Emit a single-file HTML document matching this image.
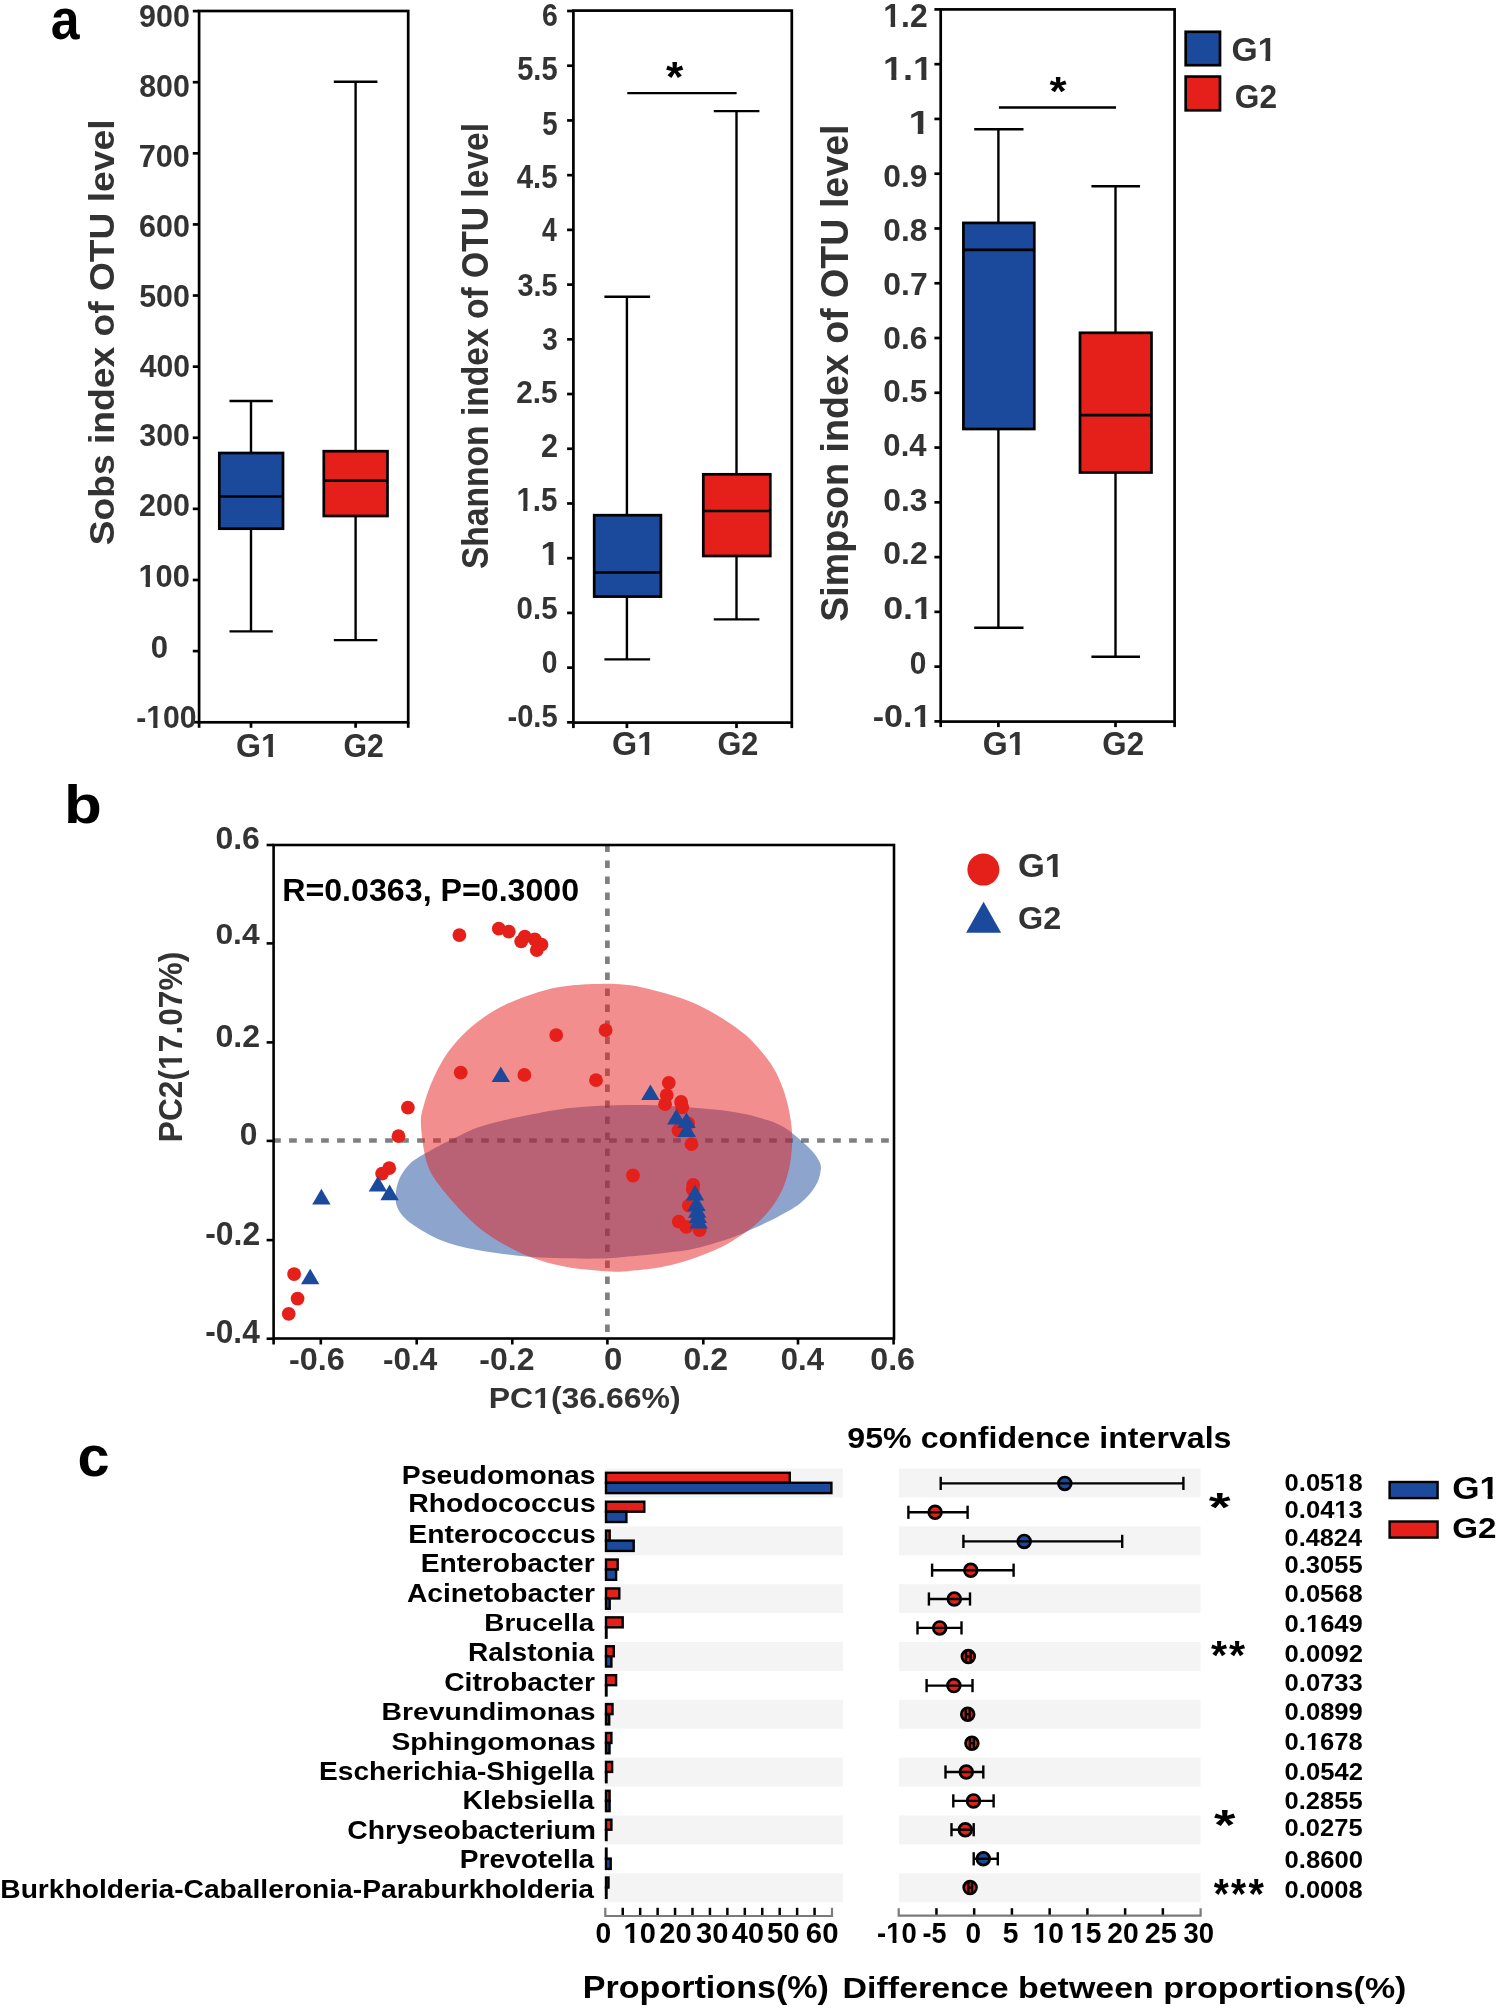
<!DOCTYPE html>
<html><head><meta charset="utf-8"><style>
html,body{margin:0;padding:0;background:#fff;}
svg{display:block;will-change:transform;}
text{font-family:"Liberation Sans",sans-serif;font-weight:bold;}
</style></head><body>
<svg width="1498" height="2009" viewBox="0 0 1498 2009">
<rect x="0" y="0" width="1498" height="2009" fill="#fff"/>
<g transform="translate(50.75,38.83) scale(0.9069,1)"><text font-size="57.09" fill="#000">a</text></g>
<rect x="199.10" y="11.00" width="209.10" height="711.30" fill="none" stroke="#000" stroke-width="2.7"/>
<line x1="192.80" y1="11.10" x2="199.10" y2="11.10" stroke="#000" stroke-width="2.7"/>
<line x1="192.80" y1="82.21" x2="199.10" y2="82.21" stroke="#000" stroke-width="2.7"/>
<line x1="192.80" y1="153.32" x2="199.10" y2="153.32" stroke="#000" stroke-width="2.7"/>
<line x1="192.80" y1="224.43" x2="199.10" y2="224.43" stroke="#000" stroke-width="2.7"/>
<line x1="192.80" y1="295.54" x2="199.10" y2="295.54" stroke="#000" stroke-width="2.7"/>
<line x1="192.80" y1="366.65" x2="199.10" y2="366.65" stroke="#000" stroke-width="2.7"/>
<line x1="192.80" y1="437.76" x2="199.10" y2="437.76" stroke="#000" stroke-width="2.7"/>
<line x1="192.80" y1="508.87" x2="199.10" y2="508.87" stroke="#000" stroke-width="2.7"/>
<line x1="192.80" y1="579.98" x2="199.10" y2="579.98" stroke="#000" stroke-width="2.7"/>
<line x1="192.80" y1="651.09" x2="199.10" y2="651.09" stroke="#000" stroke-width="2.7"/>
<line x1="192.80" y1="722.20" x2="199.10" y2="722.20" stroke="#000" stroke-width="2.7"/>
<line x1="199.10" y1="722.30" x2="199.10" y2="727.80" stroke="#000" stroke-width="2.7"/>
<line x1="251.00" y1="722.30" x2="251.00" y2="727.80" stroke="#000" stroke-width="2.7"/>
<line x1="355.60" y1="722.30" x2="355.60" y2="727.80" stroke="#000" stroke-width="2.7"/>
<line x1="408.20" y1="722.30" x2="408.20" y2="727.80" stroke="#000" stroke-width="2.7"/>
<g transform="translate(139.03,27.28) scale(0.9499,1)"><text font-size="32.11" fill="#333">900</text></g>
<g transform="translate(139.19,97.38) scale(0.9469,1)"><text font-size="32.11" fill="#333">800</text></g>
<g transform="translate(138.72,167.38) scale(0.9559,1)"><text font-size="32.11" fill="#333">700</text></g>
<g transform="translate(139.03,236.58) scale(0.9499,1)"><text font-size="32.11" fill="#333">600</text></g>
<g transform="translate(139.19,306.58) scale(0.9469,1)"><text font-size="32.11" fill="#333">500</text></g>
<g transform="translate(139.65,377.18) scale(0.9381,1)"><text font-size="32.11" fill="#333">400</text></g>
<g transform="translate(139.34,446.28) scale(0.9439,1)"><text font-size="32.11" fill="#333">300</text></g>
<g transform="translate(139.03,516.38) scale(0.9499,1)"><text font-size="32.11" fill="#333">200</text></g>
<g transform="translate(138.44,586.68) scale(0.9612,1)"><text font-size="32.11" fill="#333">100</text><rect x="1.45" y="-4.34" width="5.97" height="4.82" fill="#fff"/><rect x="11.95" y="-4.34" width="5.65" height="4.82" fill="#fff"/></g>
<g transform="translate(150.85,658.28) scale(0.9703,1)"><text font-size="32.11" fill="#333">0</text></g>
<g transform="translate(136.19,728.38) scale(0.9407,1)"><text font-size="32.11" fill="#333">-100</text><rect x="12.14" y="-4.34" width="5.97" height="4.82" fill="#fff"/><rect x="22.64" y="-4.34" width="5.65" height="4.82" fill="#fff"/></g>
<line x1="251.00" y1="401.00" x2="251.00" y2="453.00" stroke="#000" stroke-width="2.4"/>
<line x1="251.00" y1="528.70" x2="251.00" y2="631.40" stroke="#000" stroke-width="2.4"/>
<line x1="229.50" y1="401.00" x2="272.80" y2="401.00" stroke="#000" stroke-width="2.4"/>
<line x1="229.50" y1="631.40" x2="272.80" y2="631.40" stroke="#000" stroke-width="2.4"/>
<rect x="219.30" y="453.00" width="63.70" height="75.70" fill="#1b4a9c" stroke="#000" stroke-width="2.7"/>
<line x1="219.30" y1="496.50" x2="283.00" y2="496.50" stroke="#000" stroke-width="2.7"/>
<line x1="355.60" y1="81.70" x2="355.60" y2="451.20" stroke="#000" stroke-width="2.4"/>
<line x1="355.60" y1="516.00" x2="355.60" y2="640.10" stroke="#000" stroke-width="2.4"/>
<line x1="333.80" y1="81.70" x2="377.40" y2="81.70" stroke="#000" stroke-width="2.4"/>
<line x1="333.80" y1="640.10" x2="377.40" y2="640.10" stroke="#000" stroke-width="2.4"/>
<rect x="323.80" y="451.20" width="63.70" height="64.80" fill="#e5201b" stroke="#000" stroke-width="2.7"/>
<line x1="323.80" y1="480.60" x2="387.50" y2="480.60" stroke="#000" stroke-width="2.7"/>
<g transform="translate(236.02,757.27) scale(0.9690,1)"><text font-size="33.10" fill="#333">G1</text><rect x="27.23" y="-4.47" width="6.16" height="4.96" fill="#fff"/><rect x="38.06" y="-4.47" width="5.83" height="4.96" fill="#fff"/></g>
<g transform="translate(343.59,757.27) scale(0.9124,1)"><text font-size="33.10" fill="#333">G2</text></g>
<g transform="translate(113.90,545.32) rotate(-90) scale(1.0537,1)"><text font-size="35.31" fill="#333">Sobs index of OTU level</text></g>
<rect x="573.40" y="10.60" width="218.40" height="712.00" fill="none" stroke="#000" stroke-width="2.7"/>
<line x1="567.10" y1="11.00" x2="573.40" y2="11.00" stroke="#000" stroke-width="2.7"/>
<line x1="567.10" y1="65.72" x2="573.40" y2="65.72" stroke="#000" stroke-width="2.7"/>
<line x1="567.10" y1="120.44" x2="573.40" y2="120.44" stroke="#000" stroke-width="2.7"/>
<line x1="567.10" y1="175.16" x2="573.40" y2="175.16" stroke="#000" stroke-width="2.7"/>
<line x1="567.10" y1="229.88" x2="573.40" y2="229.88" stroke="#000" stroke-width="2.7"/>
<line x1="567.10" y1="284.60" x2="573.40" y2="284.60" stroke="#000" stroke-width="2.7"/>
<line x1="567.10" y1="339.32" x2="573.40" y2="339.32" stroke="#000" stroke-width="2.7"/>
<line x1="567.10" y1="394.04" x2="573.40" y2="394.04" stroke="#000" stroke-width="2.7"/>
<line x1="567.10" y1="448.76" x2="573.40" y2="448.76" stroke="#000" stroke-width="2.7"/>
<line x1="567.10" y1="503.48" x2="573.40" y2="503.48" stroke="#000" stroke-width="2.7"/>
<line x1="567.10" y1="558.20" x2="573.40" y2="558.20" stroke="#000" stroke-width="2.7"/>
<line x1="567.10" y1="612.92" x2="573.40" y2="612.92" stroke="#000" stroke-width="2.7"/>
<line x1="567.10" y1="667.64" x2="573.40" y2="667.64" stroke="#000" stroke-width="2.7"/>
<line x1="567.10" y1="722.36" x2="573.40" y2="722.36" stroke="#000" stroke-width="2.7"/>
<line x1="573.40" y1="722.60" x2="573.40" y2="728.10" stroke="#000" stroke-width="2.7"/>
<line x1="626.90" y1="722.60" x2="626.90" y2="728.10" stroke="#000" stroke-width="2.7"/>
<line x1="736.50" y1="722.60" x2="736.50" y2="728.10" stroke="#000" stroke-width="2.7"/>
<line x1="791.80" y1="722.60" x2="791.80" y2="728.10" stroke="#000" stroke-width="2.7"/>
<g transform="translate(542.00,26.38) scale(0.8861,1)"><text font-size="32.11" fill="#333">6</text></g>
<g transform="translate(517.23,80.27) scale(0.8900,1)"><text font-size="32.57" fill="#333">5.5</text></g>
<g transform="translate(542.17,134.97) scale(0.8474,1)"><text font-size="32.57" fill="#333">5</text></g>
<g transform="translate(516.76,188.37) scale(0.9006,1)"><text font-size="32.57" fill="#333">4.5</text></g>
<g transform="translate(542.10,241.20) scale(0.8089,1)"><text font-size="33.04" fill="#333">4</text></g>
<g transform="translate(517.38,295.78) scale(0.8994,1)"><text font-size="32.11" fill="#333">3.5</text></g>
<g transform="translate(542.30,350.48) scale(0.8682,1)"><text font-size="32.11" fill="#333">3</text></g>
<g transform="translate(516.16,403.48) scale(0.9272,1)"><text font-size="32.11" fill="#333">2.5</text></g>
<g transform="translate(541.03,457.20) scale(0.9402,1)"><text font-size="32.57" fill="#333">2</text></g>
<g transform="translate(516.43,511.07) scale(0.9080,1)"><text font-size="32.57" fill="#333">1.5</text><rect x="1.47" y="-4.40" width="6.06" height="4.89" fill="#fff"/><rect x="12.12" y="-4.40" width="5.73" height="4.89" fill="#fff"/></g>
<g transform="translate(540.55,564.70) scale(1.0592,1)"><text font-size="33.04" fill="#333">1</text><rect x="1.49" y="-4.46" width="6.15" height="4.96" fill="#fff"/><rect x="12.29" y="-4.46" width="5.82" height="4.96" fill="#fff"/></g>
<g transform="translate(516.62,618.98) scale(0.9166,1)"><text font-size="32.11" fill="#333">0.5</text></g>
<g transform="translate(541.87,672.68) scale(0.8785,1)"><text font-size="32.11" fill="#333">0</text></g>
<g transform="translate(507.44,726.98) scale(0.9069,1)"><text font-size="32.11" fill="#333">-0.5</text></g>
<line x1="626.90" y1="296.80" x2="626.90" y2="515.20" stroke="#000" stroke-width="2.4"/>
<line x1="626.90" y1="596.60" x2="626.90" y2="659.40" stroke="#000" stroke-width="2.4"/>
<line x1="604.40" y1="296.80" x2="650.10" y2="296.80" stroke="#000" stroke-width="2.4"/>
<line x1="604.40" y1="659.40" x2="650.10" y2="659.40" stroke="#000" stroke-width="2.4"/>
<rect x="594.20" y="515.20" width="66.70" height="81.40" fill="#1b4a9c" stroke="#000" stroke-width="2.7"/>
<line x1="594.20" y1="572.50" x2="660.90" y2="572.50" stroke="#000" stroke-width="2.7"/>
<line x1="736.50" y1="111.10" x2="736.50" y2="474.30" stroke="#000" stroke-width="2.4"/>
<line x1="736.50" y1="556.00" x2="736.50" y2="619.40" stroke="#000" stroke-width="2.4"/>
<line x1="713.80" y1="111.10" x2="759.40" y2="111.10" stroke="#000" stroke-width="2.4"/>
<line x1="713.80" y1="619.40" x2="759.40" y2="619.40" stroke="#000" stroke-width="2.4"/>
<rect x="703.30" y="474.30" width="67.00" height="81.70" fill="#e5201b" stroke="#000" stroke-width="2.7"/>
<line x1="703.30" y1="511.00" x2="770.30" y2="511.00" stroke="#000" stroke-width="2.7"/>
<g transform="translate(612.01,755.37) scale(0.9772,1)"><text font-size="33.10" fill="#333">G1</text><rect x="27.23" y="-4.47" width="6.16" height="4.96" fill="#fff"/><rect x="38.06" y="-4.47" width="5.83" height="4.96" fill="#fff"/></g>
<g transform="translate(717.47,755.37) scale(0.9268,1)"><text font-size="33.10" fill="#333">G2</text></g>
<g transform="translate(488.00,569.11) rotate(-90) scale(0.9162,1)"><text font-size="36.69" fill="#333">Shannon index of OTU level</text></g>
<line x1="627.30" y1="93.10" x2="736.60" y2="93.10" stroke="#000" stroke-width="2.4"/>
<g transform="translate(665.88,90.62) scale(1.0685,1)"><text font-size="41.62" fill="#000">*</text></g>
<rect x="940.70" y="9.40" width="233.90" height="712.20" fill="none" stroke="#000" stroke-width="2.7"/>
<line x1="934.40" y1="9.40" x2="940.70" y2="9.40" stroke="#000" stroke-width="2.7"/>
<line x1="934.40" y1="64.17" x2="940.70" y2="64.17" stroke="#000" stroke-width="2.7"/>
<line x1="934.40" y1="118.94" x2="940.70" y2="118.94" stroke="#000" stroke-width="2.7"/>
<line x1="934.40" y1="173.71" x2="940.70" y2="173.71" stroke="#000" stroke-width="2.7"/>
<line x1="934.40" y1="228.48" x2="940.70" y2="228.48" stroke="#000" stroke-width="2.7"/>
<line x1="934.40" y1="283.25" x2="940.70" y2="283.25" stroke="#000" stroke-width="2.7"/>
<line x1="934.40" y1="338.02" x2="940.70" y2="338.02" stroke="#000" stroke-width="2.7"/>
<line x1="934.40" y1="392.79" x2="940.70" y2="392.79" stroke="#000" stroke-width="2.7"/>
<line x1="934.40" y1="447.56" x2="940.70" y2="447.56" stroke="#000" stroke-width="2.7"/>
<line x1="934.40" y1="502.33" x2="940.70" y2="502.33" stroke="#000" stroke-width="2.7"/>
<line x1="934.40" y1="557.10" x2="940.70" y2="557.10" stroke="#000" stroke-width="2.7"/>
<line x1="934.40" y1="611.87" x2="940.70" y2="611.87" stroke="#000" stroke-width="2.7"/>
<line x1="934.40" y1="666.64" x2="940.70" y2="666.64" stroke="#000" stroke-width="2.7"/>
<line x1="934.40" y1="721.41" x2="940.70" y2="721.41" stroke="#000" stroke-width="2.7"/>
<line x1="940.70" y1="721.60" x2="940.70" y2="727.10" stroke="#000" stroke-width="2.7"/>
<line x1="998.40" y1="721.60" x2="998.40" y2="727.10" stroke="#000" stroke-width="2.7"/>
<line x1="1115.50" y1="721.60" x2="1115.50" y2="727.10" stroke="#000" stroke-width="2.7"/>
<line x1="1174.60" y1="721.60" x2="1174.60" y2="727.10" stroke="#000" stroke-width="2.7"/>
<g transform="translate(883.26,26.70) scale(0.9810,1)"><text font-size="32.57" fill="#333">1.2</text><rect x="1.47" y="-4.40" width="6.06" height="4.89" fill="#fff"/><rect x="12.12" y="-4.40" width="5.73" height="4.89" fill="#fff"/></g>
<g transform="translate(882.98,80.10) scale(1.0905,1)"><text font-size="33.04" fill="#333">1.1</text><rect x="1.49" y="-4.46" width="6.15" height="4.96" fill="#fff"/><rect x="12.29" y="-4.46" width="5.82" height="4.96" fill="#fff"/><rect x="29.04" y="-4.46" width="6.15" height="4.96" fill="#fff"/><rect x="39.85" y="-4.46" width="5.82" height="4.96" fill="#fff"/></g>
<g transform="translate(908.50,133.50) scale(1.2105,1)"><text font-size="33.04" fill="#333">1</text><rect x="1.49" y="-4.46" width="6.15" height="4.96" fill="#fff"/><rect x="12.29" y="-4.46" width="5.82" height="4.96" fill="#fff"/></g>
<g transform="translate(883.33,187.18) scale(0.9899,1)"><text font-size="32.11" fill="#333">0.9</text></g>
<g transform="translate(883.33,240.98) scale(0.9861,1)"><text font-size="32.11" fill="#333">0.8</text></g>
<g transform="translate(883.32,295.28) scale(0.9936,1)"><text font-size="32.11" fill="#333">0.7</text></g>
<g transform="translate(883.33,348.68) scale(0.9899,1)"><text font-size="32.11" fill="#333">0.6</text></g>
<g transform="translate(883.34,402.38) scale(0.9824,1)"><text font-size="32.11" fill="#333">0.5</text></g>
<g transform="translate(883.36,456.38) scale(0.9678,1)"><text font-size="32.11" fill="#333">0.4</text></g>
<g transform="translate(883.33,510.68) scale(0.9899,1)"><text font-size="32.11" fill="#333">0.3</text></g>
<g transform="translate(883.32,564.48) scale(0.9936,1)"><text font-size="32.11" fill="#333">0.2</text></g>
<g transform="translate(883.16,618.98) scale(1.1173,1)"><text font-size="32.11" fill="#333">0.1</text><rect x="28.23" y="-4.34" width="5.97" height="4.82" fill="#fff"/><rect x="38.73" y="-4.34" width="5.65" height="4.82" fill="#fff"/></g>
<g transform="translate(909.70,673.68) scale(0.9309,1)"><text font-size="32.11" fill="#333">0</text></g>
<g transform="translate(872.74,727.18) scale(1.0623,1)"><text font-size="32.11" fill="#333">-0.1</text><rect x="38.92" y="-4.34" width="5.97" height="4.82" fill="#fff"/><rect x="49.42" y="-4.34" width="5.65" height="4.82" fill="#fff"/></g>
<line x1="998.40" y1="129.20" x2="998.40" y2="222.90" stroke="#000" stroke-width="2.4"/>
<line x1="998.40" y1="429.00" x2="998.40" y2="627.80" stroke="#000" stroke-width="2.4"/>
<line x1="974.20" y1="129.20" x2="1023.50" y2="129.20" stroke="#000" stroke-width="2.4"/>
<line x1="974.20" y1="627.80" x2="1023.50" y2="627.80" stroke="#000" stroke-width="2.4"/>
<rect x="963.40" y="222.90" width="70.90" height="206.10" fill="#1b4a9c" stroke="#000" stroke-width="2.7"/>
<line x1="963.40" y1="249.90" x2="1034.30" y2="249.90" stroke="#000" stroke-width="2.7"/>
<line x1="1115.50" y1="186.20" x2="1115.50" y2="332.80" stroke="#000" stroke-width="2.4"/>
<line x1="1115.50" y1="472.50" x2="1115.50" y2="656.70" stroke="#000" stroke-width="2.4"/>
<line x1="1091.40" y1="186.20" x2="1140.00" y2="186.20" stroke="#000" stroke-width="2.4"/>
<line x1="1091.40" y1="656.70" x2="1140.00" y2="656.70" stroke="#000" stroke-width="2.4"/>
<rect x="1080.00" y="332.80" width="71.50" height="139.70" fill="#e5201b" stroke="#000" stroke-width="2.7"/>
<line x1="1080.00" y1="415.10" x2="1151.50" y2="415.10" stroke="#000" stroke-width="2.7"/>
<g transform="translate(982.82,754.96) scale(0.9568,1)"><text font-size="33.52" fill="#333">G1</text><rect x="27.58" y="-4.53" width="6.23" height="5.03" fill="#fff"/><rect x="38.54" y="-4.53" width="5.90" height="5.03" fill="#fff"/></g>
<g transform="translate(1102.35,754.96) scale(0.9318,1)"><text font-size="33.52" fill="#333">G2</text></g>
<g transform="translate(847.80,621.73) rotate(-90) scale(0.9535,1)"><text font-size="39.45" fill="#333">Simpson index of OTU level</text></g>
<line x1="998.90" y1="107.50" x2="1116.00" y2="107.50" stroke="#000" stroke-width="2.4"/>
<g transform="translate(1049.48,105.43) scale(1.0628,1)"><text font-size="41.35" fill="#000">*</text></g>
<rect x="1185.70" y="31.80" width="34.30" height="33.40" fill="#1b4a9c" stroke="#000" stroke-width="2.7"/>
<rect x="1185.70" y="76.60" width="34.30" height="33.70" fill="#e5201b" stroke="#000" stroke-width="2.7"/>
<g transform="translate(1231.45,61.36) scale(0.9968,1)"><text font-size="33.80" fill="#333">G1</text><rect x="27.81" y="-4.56" width="6.29" height="5.07" fill="#fff"/><rect x="38.87" y="-4.56" width="5.95" height="5.07" fill="#fff"/></g>
<g transform="translate(1234.83,108.07) scale(0.9517,1)"><text font-size="33.24" fill="#333">G2</text></g>
<g transform="translate(63.97,823.46) scale(1.1389,1)"><text font-size="54.42" fill="#000">b</text></g>
<line x1="273.6" y1="1140.5" x2="894.0" y2="1140.5" stroke="#808080" stroke-width="4.7" stroke-dasharray="7.7 8.3" stroke-dashoffset="0.50"/>
<line x1="607.4" y1="845.0" x2="607.4" y2="1338.5" stroke="#808080" stroke-width="4.7" stroke-dasharray="7.7 8.3" stroke-dashoffset="0.60"/>
<path d="M600.0,1105.8 C615.0,1104.9 629.4,1104.8 644.1,1105.1 C658.8,1105.3 673.4,1106.2 688.1,1107.3 C702.8,1108.4 720.0,1109.9 732.2,1111.7 C744.4,1113.5 752.9,1115.7 761.5,1118.3 C770.1,1120.9 775.8,1122.3 783.6,1127.1 C791.4,1131.9 802.3,1141.4 808.3,1147.2 C814.3,1153.0 817.5,1157.4 819.5,1161.7 C821.5,1166.0 821.1,1168.6 820.3,1172.9 C819.5,1177.2 818.0,1182.2 814.7,1187.3 C811.4,1192.4 806.7,1198.2 800.3,1203.3 C793.9,1208.4 784.2,1213.4 776.2,1217.7 C768.2,1222.0 759.7,1225.6 752.2,1228.9 C744.7,1232.2 740.8,1234.5 731.4,1237.7 C722.0,1240.9 707.3,1245.7 696.1,1248.2 C684.9,1250.8 674.8,1251.7 664.1,1253.0 C653.4,1254.3 642.7,1255.3 632.0,1256.2 C621.3,1257.1 612.6,1258.3 600.0,1258.6 C587.4,1258.9 570.2,1258.6 556.2,1258.1 C542.2,1257.6 529.6,1256.8 516.2,1255.4 C502.9,1254.0 488.7,1252.3 476.1,1249.8 C463.6,1247.3 451.6,1244.5 440.9,1240.2 C430.2,1235.9 419.1,1229.2 412.0,1224.1 C404.9,1219.0 401.1,1214.5 398.4,1209.7 C395.7,1204.9 395.6,1200.4 395.7,1195.3 C395.8,1190.2 397.0,1184.4 399.2,1179.3 C401.4,1174.2 404.5,1169.2 408.8,1164.9 C413.1,1160.6 417.1,1158.2 424.9,1153.6 C432.7,1149.0 445.3,1142.3 455.8,1137.4 C466.3,1132.5 471.7,1128.7 488.1,1124.2 C504.5,1119.7 535.6,1113.4 554.2,1110.3 C572.9,1107.2 585.0,1106.7 600.0,1105.8 Z" fill="#1b4a9c" fill-opacity="0.5"/>
<path d="M600.0,984.0 C604.8,984.0 608.6,983.6 614.7,984.0 C620.8,984.4 628.1,984.6 636.7,986.2 C645.3,987.8 656.3,990.6 666.1,993.5 C675.9,996.4 685.7,999.4 695.5,1003.8 C705.3,1008.2 716.2,1014.5 724.8,1019.9 C733.4,1025.3 740.3,1030.2 746.9,1036.1 C753.5,1042.0 759.6,1049.1 764.5,1055.2 C769.4,1061.3 772.8,1066.2 776.2,1072.8 C779.6,1079.4 782.7,1087.4 785.0,1094.8 C787.3,1102.2 789.0,1109.5 790.2,1116.9 C791.4,1124.3 792.3,1131.2 792.2,1139.2 C792.1,1147.2 791.4,1156.6 789.8,1164.9 C788.2,1173.2 785.9,1181.4 782.6,1188.9 C779.3,1196.4 774.9,1203.3 769.8,1209.7 C764.7,1216.1 759.1,1221.7 752.2,1227.3 C745.3,1232.9 737.0,1238.6 728.2,1243.4 C719.4,1248.2 710.0,1252.3 699.3,1256.2 C688.6,1260.1 676.6,1264.1 664.1,1266.6 C651.6,1269.1 635.3,1270.7 624.0,1271.4 C612.7,1272.1 606.3,1271.4 596.3,1270.6 C586.3,1269.8 574.9,1268.7 564.2,1266.6 C553.5,1264.5 542.1,1261.4 532.2,1257.8 C522.3,1254.2 513.3,1249.5 505.0,1245.0 C496.7,1240.5 489.4,1235.8 482.5,1230.5 C475.6,1225.2 469.2,1218.8 463.3,1212.9 C457.4,1207.0 452.3,1201.3 447.3,1195.3 C442.3,1189.3 437.0,1182.6 433.5,1177.0 C430.0,1171.4 428.3,1167.7 426.5,1161.7 C424.7,1155.7 423.4,1147.8 422.5,1140.8 C421.6,1133.8 420.7,1125.7 420.9,1120.0 C421.1,1114.3 421.9,1112.5 423.5,1106.6 C425.1,1100.7 427.4,1092.7 430.8,1084.6 C434.2,1076.5 439.0,1066.2 444.1,1058.1 C449.2,1050.0 455.4,1042.7 461.7,1036.1 C468.0,1029.5 474.9,1023.8 482.2,1018.5 C489.5,1013.2 497.4,1008.5 505.7,1004.5 C514.0,1000.5 523.5,997.1 532.2,994.2 C540.9,991.3 548.9,988.9 557.9,987.3 C566.9,985.6 579.0,984.8 586.0,984.3 C593.0,983.8 595.2,984.0 600.0,984.0 Z" fill="#e61e1e" fill-opacity="0.5"/>
<rect x="273.6" y="845.0" width="620.4" height="493.5" fill="none" stroke="#000" stroke-width="2.6"/>
<line x1="266.60" y1="845.00" x2="273.60" y2="845.00" stroke="#000" stroke-width="2.6"/>
<line x1="266.60" y1="943.40" x2="273.60" y2="943.40" stroke="#000" stroke-width="2.6"/>
<line x1="266.60" y1="1042.40" x2="273.60" y2="1042.40" stroke="#000" stroke-width="2.6"/>
<line x1="266.60" y1="1140.90" x2="273.60" y2="1140.90" stroke="#000" stroke-width="2.6"/>
<line x1="266.60" y1="1240.10" x2="273.60" y2="1240.10" stroke="#000" stroke-width="2.6"/>
<line x1="266.60" y1="1338.70" x2="273.60" y2="1338.70" stroke="#000" stroke-width="2.6"/>
<line x1="273.60" y1="1338.50" x2="273.60" y2="1344.50" stroke="#000" stroke-width="2.6"/>
<line x1="320.80" y1="1338.50" x2="320.80" y2="1344.50" stroke="#000" stroke-width="2.6"/>
<line x1="416.70" y1="1338.50" x2="416.70" y2="1344.50" stroke="#000" stroke-width="2.6"/>
<line x1="512.30" y1="1338.50" x2="512.30" y2="1344.50" stroke="#000" stroke-width="2.6"/>
<line x1="607.40" y1="1338.50" x2="607.40" y2="1344.50" stroke="#000" stroke-width="2.6"/>
<line x1="703.30" y1="1338.50" x2="703.30" y2="1344.50" stroke="#000" stroke-width="2.6"/>
<line x1="798.00" y1="1338.50" x2="798.00" y2="1344.50" stroke="#000" stroke-width="2.6"/>
<line x1="893.60" y1="1338.50" x2="893.60" y2="1344.50" stroke="#000" stroke-width="2.6"/>
<circle cx="459.4" cy="935.1" r="6.9" fill="#e5201b"/>
<circle cx="498.8" cy="928.7" r="6.9" fill="#e5201b"/>
<circle cx="508.8" cy="931.6" r="6.9" fill="#e5201b"/>
<circle cx="524.8" cy="936.7" r="6.9" fill="#e5201b"/>
<circle cx="521.2" cy="941.4" r="6.9" fill="#e5201b"/>
<circle cx="534.8" cy="939.4" r="6.9" fill="#e5201b"/>
<circle cx="541.5" cy="944.7" r="6.9" fill="#e5201b"/>
<circle cx="536.8" cy="950.1" r="6.9" fill="#e5201b"/>
<circle cx="556.2" cy="1035.1" r="6.9" fill="#e5201b"/>
<circle cx="605.6" cy="1030.2" r="6.9" fill="#e5201b"/>
<circle cx="460.7" cy="1072.6" r="6.9" fill="#e5201b"/>
<circle cx="524.4" cy="1074.9" r="6.9" fill="#e5201b"/>
<circle cx="596" cy="1080.2" r="6.9" fill="#e5201b"/>
<circle cx="668.8" cy="1082.8" r="6.9" fill="#e5201b"/>
<circle cx="666.7" cy="1095.1" r="6.9" fill="#e5201b"/>
<circle cx="665.1" cy="1104.2" r="6.9" fill="#e5201b"/>
<circle cx="681.1" cy="1102" r="6.9" fill="#e5201b"/>
<circle cx="682.2" cy="1107.4" r="6.9" fill="#e5201b"/>
<circle cx="688.1" cy="1123.4" r="6.9" fill="#e5201b"/>
<circle cx="678.5" cy="1130.3" r="6.9" fill="#e5201b"/>
<circle cx="691.5" cy="1144.2" r="6.9" fill="#e5201b"/>
<circle cx="633" cy="1175.5" r="6.9" fill="#e5201b"/>
<circle cx="693.2" cy="1184.8" r="6.9" fill="#e5201b"/>
<circle cx="692.8" cy="1189.5" r="6.9" fill="#e5201b"/>
<circle cx="688.8" cy="1205.6" r="6.9" fill="#e5201b"/>
<circle cx="678.8" cy="1221.7" r="6.9" fill="#e5201b"/>
<circle cx="686.4" cy="1226.9" r="6.9" fill="#e5201b"/>
<circle cx="699.6" cy="1230.1" r="6.9" fill="#e5201b"/>
<circle cx="407.9" cy="1107.7" r="6.9" fill="#e5201b"/>
<circle cx="398.5" cy="1136.2" r="6.9" fill="#e5201b"/>
<circle cx="389.2" cy="1168.2" r="6.9" fill="#e5201b"/>
<circle cx="382.1" cy="1173.6" r="6.9" fill="#e5201b"/>
<circle cx="294.1" cy="1274.1" r="6.9" fill="#e5201b"/>
<circle cx="297.6" cy="1298.6" r="6.9" fill="#e5201b"/>
<circle cx="288.7" cy="1313.8" r="6.9" fill="#e5201b"/>
<path d="M500.8,1066.4 L510.0,1082.0 L491.6,1082.0 Z" fill="#1b4a9c"/>
<path d="M650.4,1084.4 L659.6,1100.0 L641.2,1100.0 Z" fill="#1b4a9c"/>
<path d="M676.3,1109.0 L685.5,1124.6 L667.1,1124.6 Z" fill="#1b4a9c"/>
<path d="M686.5,1112.5 L695.7,1128.1 L677.3,1128.1 Z" fill="#1b4a9c"/>
<path d="M686.8,1121.4 L696.0,1137.0 L677.6,1137.0 Z" fill="#1b4a9c"/>
<path d="M695.0,1184.8 L704.2,1200.4 L685.8,1200.4 Z" fill="#1b4a9c"/>
<path d="M696.5,1195.5 L705.7,1211.1 L687.3,1211.1 Z" fill="#1b4a9c"/>
<path d="M697.2,1202.2 L706.4,1217.8 L688.0,1217.8 Z" fill="#1b4a9c"/>
<path d="M697.8,1207.5 L707.0,1223.1 L688.6,1223.1 Z" fill="#1b4a9c"/>
<path d="M698.6,1212.8 L707.8,1228.4 L689.4,1228.4 Z" fill="#1b4a9c"/>
<path d="M377.9,1175.9 L387.1,1191.5 L368.7,1191.5 Z" fill="#1b4a9c"/>
<path d="M389.6,1184.6 L398.8,1200.2 L380.4,1200.2 Z" fill="#1b4a9c"/>
<path d="M321.4,1188.8 L330.6,1204.4 L312.2,1204.4 Z" fill="#1b4a9c"/>
<path d="M310.2,1268.7 L319.4,1284.3 L301.0,1284.3 Z" fill="#1b4a9c"/>
<g transform="translate(215.42,849.28) scale(1.0058,1)"><text font-size="31.83" fill="#333">0.6</text></g>
<g transform="translate(215.43,943.80) scale(1.0460,1)"><text font-size="30.42" fill="#333">0.4</text></g>
<g transform="translate(215.41,1046.99) scale(1.0232,1)"><text font-size="31.41" fill="#333">0.2</text></g>
<g transform="translate(239.63,1144.98) scale(0.9899,1)"><text font-size="32.11" fill="#333">0</text></g>
<g transform="translate(205.22,1244.88) scale(0.9844,1)"><text font-size="32.39" fill="#333">-0.2</text></g>
<g transform="translate(205.23,1343.28) scale(0.9768,1)"><text font-size="32.39" fill="#333">-0.4</text></g>
<g transform="translate(289.00,1369.58) scale(1.0224,1)"><text font-size="31.69" fill="#333">-0.6</text></g>
<g transform="translate(382.94,1369.58) scale(0.9947,1)"><text font-size="31.69" fill="#333">-0.4</text></g>
<g transform="translate(479.32,1369.58) scale(1.0102,1)"><text font-size="31.69" fill="#333">-0.2</text></g>
<g transform="translate(603.88,1369.58) scale(1.0430,1)"><text font-size="31.69" fill="#333">0</text></g>
<g transform="translate(683.52,1369.58) scale(1.0093,1)"><text font-size="31.69" fill="#333">0.2</text></g>
<g transform="translate(780.76,1369.58) scale(0.9807,1)"><text font-size="31.69" fill="#333">0.4</text></g>
<g transform="translate(870.21,1369.58) scale(1.0175,1)"><text font-size="31.69" fill="#333">0.6</text></g>
<g transform="translate(488.72,1407.70) scale(1.0736,1)"><text font-size="29.79" fill="#333">PC1(36.66%)</text><rect x="42.73" y="-4.02" width="5.54" height="4.47" fill="#fff"/><rect x="52.47" y="-4.02" width="5.24" height="4.47" fill="#fff"/></g>
<g transform="translate(181.80,1142.26) rotate(-90) scale(0.9551,1)"><text font-size="33.24" fill="#333">PC2(17.07%)</text><rect x="77.23" y="-4.49" width="6.18" height="4.99" fill="#fff"/><rect x="88.10" y="-4.49" width="5.85" height="4.99" fill="#fff"/></g>
<g transform="translate(282.21,901.40) scale(1.0058,1)"><text font-size="32.00" fill="#000">R=0.0363, P=0.3000</text></g>
<circle cx="983.4" cy="869.6" r="16" fill="#e5201b"/>
<path d="M983.6,901.8 L1001.1,932.8 L966.1,932.8 Z" fill="#1b4a9c"/>
<g transform="translate(1017.92,877.37) scale(1.0452,1)"><text font-size="33.10" fill="#333">G1</text><rect x="27.23" y="-4.47" width="6.16" height="4.96" fill="#fff"/><rect x="38.06" y="-4.47" width="5.83" height="4.96" fill="#fff"/></g>
<g transform="translate(1018.01,929.08) scale(1.0030,1)"><text font-size="32.25" fill="#333">G2</text></g>
<g transform="translate(77.59,1475.53) scale(1.0112,1)"><text font-size="57.09" fill="#000">c</text></g>
<g transform="translate(847.37,1448.20) scale(1.0794,1)"><text font-size="29.79" fill="#000">95% confidence intervals</text></g>
<g transform="translate(582.78,1997.80) scale(1.0937,1)"><text font-size="31.17" fill="#000">Proportions(%)</text></g>
<g transform="translate(842.59,1998.20) scale(1.1502,1)"><text font-size="29.52" fill="#000">Difference between proportions(%)</text></g>
<rect x="605.00" y="1468.55" width="238.00" height="28.90" fill="#f4f4f4"/>
<rect x="899.00" y="1468.55" width="301.50" height="28.90" fill="#f4f4f4"/>
<rect x="605.00" y="1526.37" width="238.00" height="28.90" fill="#f4f4f4"/>
<rect x="899.00" y="1526.37" width="301.50" height="28.90" fill="#f4f4f4"/>
<rect x="605.00" y="1584.19" width="238.00" height="28.90" fill="#f4f4f4"/>
<rect x="899.00" y="1584.19" width="301.50" height="28.90" fill="#f4f4f4"/>
<rect x="605.00" y="1642.01" width="238.00" height="28.90" fill="#f4f4f4"/>
<rect x="899.00" y="1642.01" width="301.50" height="28.90" fill="#f4f4f4"/>
<rect x="605.00" y="1699.83" width="238.00" height="28.90" fill="#f4f4f4"/>
<rect x="899.00" y="1699.83" width="301.50" height="28.90" fill="#f4f4f4"/>
<rect x="605.00" y="1757.65" width="238.00" height="28.90" fill="#f4f4f4"/>
<rect x="899.00" y="1757.65" width="301.50" height="28.90" fill="#f4f4f4"/>
<rect x="605.00" y="1815.47" width="238.00" height="28.90" fill="#f4f4f4"/>
<rect x="899.00" y="1815.47" width="301.50" height="28.90" fill="#f4f4f4"/>
<rect x="605.00" y="1873.29" width="238.00" height="28.90" fill="#f4f4f4"/>
<rect x="899.00" y="1873.29" width="301.50" height="28.90" fill="#f4f4f4"/>
<g transform="translate(401.86,1483.50) scale(1.1051,1)"><text font-size="25.66" fill="#000">Pseudomonas</text></g>
<g transform="translate(408.26,1512.40) scale(1.1355,1)"><text font-size="24.97" fill="#000">Rhodococcus</text></g>
<g transform="translate(408.26,1542.60) scale(1.0630,1)"><text font-size="26.67" fill="#000">Enterococcus</text></g>
<g transform="translate(420.66,1572.30) scale(1.1189,1)"><text font-size="25.24" fill="#000">Enterobacter</text></g>
<g transform="translate(406.90,1602.10) scale(1.1292,1)"><text font-size="24.97" fill="#000">Acinetobacter</text></g>
<g transform="translate(484.29,1631.20) scale(1.1479,1)"><text font-size="24.28" fill="#000">Brucella</text></g>
<g transform="translate(467.98,1661.00) scale(1.1175,1)"><text font-size="25.10" fill="#000">Ralstonia</text></g>
<g transform="translate(444.17,1690.90) scale(1.1014,1)"><text font-size="25.66" fill="#000">Citrobacter</text></g>
<g transform="translate(381.46,1720.20) scale(1.1418,1)"><text font-size="24.83" fill="#000">Brevundimonas</text></g>
<g transform="translate(391.45,1750.10) scale(1.1390,1)"><text font-size="24.83" fill="#000">Sphingomonas</text></g>
<g transform="translate(319.07,1779.50) scale(1.1269,1)"><text font-size="24.97" fill="#000">Escherichia-Shigella</text></g>
<g transform="translate(462.57,1809.00) scale(1.0930,1)"><text font-size="25.79" fill="#000">Klebsiella</text></g>
<g transform="translate(347.37,1838.80) scale(1.1290,1)"><text font-size="25.10" fill="#000">Chryseobacterium</text></g>
<g transform="translate(459.67,1867.70) scale(1.1213,1)"><text font-size="25.10" fill="#000">Prevotella</text></g>
<g transform="translate(0.27,1898.00) scale(1.0934,1)"><text font-size="25.79" fill="#000">Burkholderia-Caballeronia-Paraburkholderia</text></g>
<rect x="606.0" y="1472.80" width="183.80" height="10.0" fill="#e5201b" stroke="#000" stroke-width="2.4"/>
<rect x="606.0" y="1482.80" width="225.40" height="10.3" fill="#1b4a9c" stroke="#000" stroke-width="2.4"/>
<rect x="606.0" y="1501.71" width="38.30" height="10.0" fill="#e5201b" stroke="#000" stroke-width="2.4"/>
<rect x="606.0" y="1511.71" width="20.40" height="10.3" fill="#1b4a9c" stroke="#000" stroke-width="2.4"/>
<rect x="606.0" y="1530.62" width="3.70" height="10.0" fill="#e5201b" stroke="#000" stroke-width="2.4"/>
<rect x="606.0" y="1540.62" width="27.70" height="10.3" fill="#1b4a9c" stroke="#000" stroke-width="2.4"/>
<rect x="606.0" y="1559.53" width="11.70" height="10.0" fill="#e5201b" stroke="#000" stroke-width="2.4"/>
<rect x="606.0" y="1569.53" width="10.10" height="10.3" fill="#1b4a9c" stroke="#000" stroke-width="2.4"/>
<rect x="606.0" y="1588.44" width="13.30" height="10.0" fill="#e5201b" stroke="#000" stroke-width="2.4"/>
<rect x="606.0" y="1598.44" width="3.70" height="10.3" fill="#1b4a9c" stroke="#000" stroke-width="2.4"/>
<rect x="606.0" y="1617.35" width="16.70" height="10.0" fill="#e5201b" stroke="#000" stroke-width="2.4"/>
<rect x="606.0" y="1627.35" width="0.50" height="10.3" fill="#1b4a9c" stroke="#000" stroke-width="2.4"/>
<rect x="606.0" y="1646.26" width="7.80" height="10.0" fill="#e5201b" stroke="#000" stroke-width="2.4"/>
<rect x="606.0" y="1656.26" width="5.40" height="10.3" fill="#1b4a9c" stroke="#000" stroke-width="2.4"/>
<rect x="606.0" y="1675.17" width="10.10" height="10.0" fill="#e5201b" stroke="#000" stroke-width="2.4"/>
<rect x="606.0" y="1685.17" width="0.50" height="10.3" fill="#1b4a9c" stroke="#000" stroke-width="2.4"/>
<rect x="606.0" y="1704.08" width="6.50" height="10.0" fill="#e5201b" stroke="#000" stroke-width="2.4"/>
<rect x="606.0" y="1714.08" width="3.20" height="10.3" fill="#1b4a9c" stroke="#000" stroke-width="2.4"/>
<rect x="606.0" y="1732.99" width="5.40" height="10.0" fill="#e5201b" stroke="#000" stroke-width="2.4"/>
<rect x="606.0" y="1742.99" width="3.50" height="10.3" fill="#1b4a9c" stroke="#000" stroke-width="2.4"/>
<rect x="606.0" y="1761.90" width="6.10" height="10.0" fill="#e5201b" stroke="#000" stroke-width="2.4"/>
<rect x="606.0" y="1771.90" width="0.50" height="10.3" fill="#1b4a9c" stroke="#000" stroke-width="2.4"/>
<rect x="606.0" y="1790.81" width="3.60" height="10.0" fill="#e5201b" stroke="#000" stroke-width="2.4"/>
<rect x="606.0" y="1800.81" width="3.60" height="10.3" fill="#1b4a9c" stroke="#000" stroke-width="2.4"/>
<rect x="606.0" y="1819.72" width="5.40" height="10.0" fill="#e5201b" stroke="#000" stroke-width="2.4"/>
<rect x="606.0" y="1829.72" width="0.50" height="10.3" fill="#1b4a9c" stroke="#000" stroke-width="2.4"/>
<rect x="606.0" y="1848.63" width="0.50" height="10.0" fill="#e5201b" stroke="#000" stroke-width="2.4"/>
<rect x="606.0" y="1858.63" width="4.70" height="10.3" fill="#1b4a9c" stroke="#000" stroke-width="2.4"/>
<rect x="606.0" y="1877.54" width="2.50" height="10.0" fill="#e5201b" stroke="#000" stroke-width="2.4"/>
<rect x="606.0" y="1887.54" width="0.50" height="10.3" fill="#1b4a9c" stroke="#000" stroke-width="2.4"/>
<circle cx="1064.8" cy="1483.4" r="6.4" fill="#1b4a9c" stroke="#000" stroke-width="2.7"/>
<line x1="940.70" y1="1483.40" x2="1183.40" y2="1483.40" stroke="#000" stroke-width="2.4"/>
<line x1="940.70" y1="1476.80" x2="940.70" y2="1490.00" stroke="#000" stroke-width="2.4"/>
<line x1="1183.40" y1="1476.80" x2="1183.40" y2="1490.00" stroke="#000" stroke-width="2.4"/>
<circle cx="935.1" cy="1512.3" r="6.4" fill="#e5201b" stroke="#000" stroke-width="2.7"/>
<line x1="908.40" y1="1512.30" x2="967.60" y2="1512.30" stroke="#000" stroke-width="2.4"/>
<line x1="908.40" y1="1505.70" x2="908.40" y2="1518.90" stroke="#000" stroke-width="2.4"/>
<line x1="967.60" y1="1505.70" x2="967.60" y2="1518.90" stroke="#000" stroke-width="2.4"/>
<circle cx="1024.2" cy="1541.4" r="6.4" fill="#1b4a9c" stroke="#000" stroke-width="2.7"/>
<line x1="963.40" y1="1541.40" x2="1122.20" y2="1541.40" stroke="#000" stroke-width="2.4"/>
<line x1="963.40" y1="1534.80" x2="963.40" y2="1548.00" stroke="#000" stroke-width="2.4"/>
<line x1="1122.20" y1="1534.80" x2="1122.20" y2="1548.00" stroke="#000" stroke-width="2.4"/>
<circle cx="970.8" cy="1570.2" r="6.4" fill="#e5201b" stroke="#000" stroke-width="2.7"/>
<line x1="932.10" y1="1570.20" x2="1013.60" y2="1570.20" stroke="#000" stroke-width="2.4"/>
<line x1="932.10" y1="1563.60" x2="932.10" y2="1576.80" stroke="#000" stroke-width="2.4"/>
<line x1="1013.60" y1="1563.60" x2="1013.60" y2="1576.80" stroke="#000" stroke-width="2.4"/>
<circle cx="954.3" cy="1599.0" r="6.4" fill="#e5201b" stroke="#000" stroke-width="2.7"/>
<line x1="928.90" y1="1599.00" x2="970.00" y2="1599.00" stroke="#000" stroke-width="2.4"/>
<line x1="928.90" y1="1592.40" x2="928.90" y2="1605.60" stroke="#000" stroke-width="2.4"/>
<line x1="970.00" y1="1592.40" x2="970.00" y2="1605.60" stroke="#000" stroke-width="2.4"/>
<circle cx="939.7" cy="1627.9" r="6.4" fill="#e5201b" stroke="#000" stroke-width="2.7"/>
<line x1="917.50" y1="1627.90" x2="961.50" y2="1627.90" stroke="#000" stroke-width="2.4"/>
<line x1="917.50" y1="1621.30" x2="917.50" y2="1634.50" stroke="#000" stroke-width="2.4"/>
<line x1="961.50" y1="1621.30" x2="961.50" y2="1634.50" stroke="#000" stroke-width="2.4"/>
<circle cx="968.3" cy="1656.5" r="6.4" fill="#e5201b" stroke="#000" stroke-width="2.7"/>
<line x1="966.00" y1="1656.50" x2="970.60" y2="1656.50" stroke="#000" stroke-width="2.4"/>
<line x1="966.00" y1="1649.90" x2="966.00" y2="1663.10" stroke="#000" stroke-width="2.4"/>
<line x1="970.60" y1="1649.90" x2="970.60" y2="1663.10" stroke="#000" stroke-width="2.4"/>
<circle cx="953.9" cy="1685.6" r="6.4" fill="#e5201b" stroke="#000" stroke-width="2.7"/>
<line x1="926.60" y1="1685.60" x2="972.50" y2="1685.60" stroke="#000" stroke-width="2.4"/>
<line x1="926.60" y1="1679.00" x2="926.60" y2="1692.20" stroke="#000" stroke-width="2.4"/>
<line x1="972.50" y1="1679.00" x2="972.50" y2="1692.20" stroke="#000" stroke-width="2.4"/>
<circle cx="967.7" cy="1714.2" r="6.4" fill="#e5201b" stroke="#000" stroke-width="2.7"/>
<line x1="965.70" y1="1714.20" x2="969.70" y2="1714.20" stroke="#000" stroke-width="2.4"/>
<line x1="965.70" y1="1707.60" x2="965.70" y2="1720.80" stroke="#000" stroke-width="2.4"/>
<line x1="969.70" y1="1707.60" x2="969.70" y2="1720.80" stroke="#000" stroke-width="2.4"/>
<circle cx="971.9" cy="1743.2" r="6.4" fill="#e5201b" stroke="#000" stroke-width="2.7"/>
<line x1="969.90" y1="1743.20" x2="973.90" y2="1743.20" stroke="#000" stroke-width="2.4"/>
<line x1="969.90" y1="1736.60" x2="969.90" y2="1749.80" stroke="#000" stroke-width="2.4"/>
<line x1="973.90" y1="1736.60" x2="973.90" y2="1749.80" stroke="#000" stroke-width="2.4"/>
<circle cx="966.3" cy="1772.0" r="6.4" fill="#e5201b" stroke="#000" stroke-width="2.7"/>
<line x1="945.50" y1="1772.00" x2="983.30" y2="1772.00" stroke="#000" stroke-width="2.4"/>
<line x1="945.50" y1="1765.40" x2="945.50" y2="1778.60" stroke="#000" stroke-width="2.4"/>
<line x1="983.30" y1="1765.40" x2="983.30" y2="1778.60" stroke="#000" stroke-width="2.4"/>
<circle cx="973.5" cy="1800.9" r="6.4" fill="#e5201b" stroke="#000" stroke-width="2.7"/>
<line x1="953.30" y1="1800.90" x2="993.60" y2="1800.90" stroke="#000" stroke-width="2.4"/>
<line x1="953.30" y1="1794.30" x2="953.30" y2="1807.50" stroke="#000" stroke-width="2.4"/>
<line x1="993.60" y1="1794.30" x2="993.60" y2="1807.50" stroke="#000" stroke-width="2.4"/>
<circle cx="965.3" cy="1829.7" r="6.4" fill="#e5201b" stroke="#000" stroke-width="2.7"/>
<line x1="951.50" y1="1829.70" x2="973.70" y2="1829.70" stroke="#000" stroke-width="2.4"/>
<line x1="951.50" y1="1823.10" x2="951.50" y2="1836.30" stroke="#000" stroke-width="2.4"/>
<line x1="973.70" y1="1823.10" x2="973.70" y2="1836.30" stroke="#000" stroke-width="2.4"/>
<circle cx="983.3" cy="1858.8" r="6.4" fill="#1b4a9c" stroke="#000" stroke-width="2.7"/>
<line x1="973.70" y1="1858.80" x2="997.80" y2="1858.80" stroke="#000" stroke-width="2.4"/>
<line x1="973.70" y1="1852.20" x2="973.70" y2="1865.40" stroke="#000" stroke-width="2.4"/>
<line x1="997.80" y1="1852.20" x2="997.80" y2="1865.40" stroke="#000" stroke-width="2.4"/>
<circle cx="970.1" cy="1887.6" r="6.4" fill="#e5201b" stroke="#000" stroke-width="2.7"/>
<line x1="968.40" y1="1887.60" x2="972.00" y2="1887.60" stroke="#000" stroke-width="2.4"/>
<line x1="968.40" y1="1881.00" x2="968.40" y2="1894.20" stroke="#000" stroke-width="2.4"/>
<line x1="972.00" y1="1881.00" x2="972.00" y2="1894.20" stroke="#000" stroke-width="2.4"/>
<path d="M605.3,1907.8 V1916 H832.0 V1907.8" fill="none" stroke="#7a7a7a" stroke-width="2.2"/>
<line x1="622.74" y1="1907.80" x2="622.74" y2="1915.00" stroke="#000" stroke-width="2.5"/>
<line x1="640.18" y1="1907.80" x2="640.18" y2="1915.00" stroke="#000" stroke-width="2.5"/>
<line x1="657.62" y1="1907.80" x2="657.62" y2="1915.00" stroke="#000" stroke-width="2.5"/>
<line x1="675.05" y1="1907.80" x2="675.05" y2="1915.00" stroke="#000" stroke-width="2.5"/>
<line x1="692.49" y1="1907.80" x2="692.49" y2="1915.00" stroke="#000" stroke-width="2.5"/>
<line x1="709.93" y1="1907.80" x2="709.93" y2="1915.00" stroke="#000" stroke-width="2.5"/>
<line x1="727.37" y1="1907.80" x2="727.37" y2="1915.00" stroke="#000" stroke-width="2.5"/>
<line x1="744.81" y1="1907.80" x2="744.81" y2="1915.00" stroke="#000" stroke-width="2.5"/>
<line x1="762.25" y1="1907.80" x2="762.25" y2="1915.00" stroke="#000" stroke-width="2.5"/>
<line x1="779.68" y1="1907.80" x2="779.68" y2="1915.00" stroke="#000" stroke-width="2.5"/>
<line x1="797.12" y1="1907.80" x2="797.12" y2="1915.00" stroke="#000" stroke-width="2.5"/>
<line x1="814.56" y1="1907.80" x2="814.56" y2="1915.00" stroke="#000" stroke-width="2.5"/>
<path d="M898.7,1908.2 V1915.7 H1200.6 V1908.2" fill="none" stroke="#7a7a7a" stroke-width="2.2"/>
<line x1="936.44" y1="1908.20" x2="936.44" y2="1914.70" stroke="#000" stroke-width="2.5"/>
<line x1="974.17" y1="1908.20" x2="974.17" y2="1914.70" stroke="#000" stroke-width="2.5"/>
<line x1="1011.91" y1="1908.20" x2="1011.91" y2="1914.70" stroke="#000" stroke-width="2.5"/>
<line x1="1049.65" y1="1908.20" x2="1049.65" y2="1914.70" stroke="#000" stroke-width="2.5"/>
<line x1="1087.39" y1="1908.20" x2="1087.39" y2="1914.70" stroke="#000" stroke-width="2.5"/>
<line x1="1125.12" y1="1908.20" x2="1125.12" y2="1914.70" stroke="#000" stroke-width="2.5"/>
<line x1="1162.86" y1="1908.20" x2="1162.86" y2="1914.70" stroke="#000" stroke-width="2.5"/>
<g transform="translate(595.47,1943.21) scale(0.9867,1)"><text font-size="28.59" fill="#000">0</text></g>
<g transform="translate(623.57,1943.21) scale(1.0143,1)"><text font-size="28.59" fill="#000">10</text><rect x="1.29" y="-3.86" width="5.32" height="4.29" fill="#fff"/><rect x="10.64" y="-3.86" width="5.03" height="4.29" fill="#fff"/></g>
<g transform="translate(659.29,1943.21) scale(1.0138,1)"><text font-size="28.59" fill="#000">20</text></g>
<g transform="translate(695.97,1943.21) scale(1.0175,1)"><text font-size="28.59" fill="#000">30</text></g>
<g transform="translate(731.87,1943.21) scale(1.0078,1)"><text font-size="28.59" fill="#000">40</text></g>
<g transform="translate(767.02,1943.21) scale(1.0224,1)"><text font-size="28.59" fill="#000">50</text></g>
<g transform="translate(805.87,1943.21) scale(1.0273,1)"><text font-size="28.59" fill="#000">60</text></g>
<g transform="translate(877.10,1943.21) scale(0.9583,1)"><text font-size="28.59" fill="#000">-10</text><rect x="10.81" y="-3.86" width="5.32" height="4.29" fill="#fff"/><rect x="20.16" y="-3.86" width="5.03" height="4.29" fill="#fff"/></g>
<g transform="translate(922.62,1943.21) scale(0.9279,1)"><text font-size="29.00" fill="#000">-5</text></g>
<g transform="translate(965.38,1943.21) scale(0.9793,1)"><text font-size="28.59" fill="#000">0</text></g>
<g transform="translate(1002.75,1943.21) scale(0.9724,1)"><text font-size="29.00" fill="#000">5</text></g>
<g transform="translate(1032.73,1943.21) scale(0.9828,1)"><text font-size="28.59" fill="#000">10</text><rect x="1.29" y="-3.86" width="5.32" height="4.29" fill="#fff"/><rect x="10.64" y="-3.86" width="5.03" height="4.29" fill="#fff"/></g>
<g transform="translate(1070.12,1943.21) scale(0.9750,1)"><text font-size="29.00" fill="#000">15</text><rect x="1.30" y="-3.91" width="5.39" height="4.35" fill="#fff"/><rect x="10.79" y="-3.91" width="5.10" height="4.35" fill="#fff"/></g>
<g transform="translate(1107.31,1943.21) scale(0.9867,1)"><text font-size="28.59" fill="#000">20</text></g>
<g transform="translate(1144.69,1943.21) scale(1.0126,1)"><text font-size="28.59" fill="#000">25</text></g>
<g transform="translate(1183.61,1943.21) scale(0.9606,1)"><text font-size="28.59" fill="#000">30</text></g>
<g transform="translate(1284.58,1491.46) scale(1.0609,1)"><text font-size="24.08" fill="#000">0.0518</text><rect x="47.96" y="-3.25" width="4.48" height="3.61" fill="#fff"/><rect x="55.84" y="-3.25" width="4.24" height="3.61" fill="#fff"/></g>
<g transform="translate(1284.58,1518.46) scale(1.0627,1)"><text font-size="24.08" fill="#000">0.0413</text><rect x="47.96" y="-3.25" width="4.48" height="3.61" fill="#fff"/><rect x="55.84" y="-3.25" width="4.24" height="3.61" fill="#fff"/></g>
<g transform="translate(1284.59,1546.16) scale(1.0521,1)"><text font-size="24.08" fill="#000">0.4824</text></g>
<g transform="translate(1284.58,1572.76) scale(1.0592,1)"><text font-size="24.08" fill="#000">0.3055</text></g>
<g transform="translate(1284.58,1601.86) scale(1.0609,1)"><text font-size="24.08" fill="#000">0.0568</text></g>
<g transform="translate(1284.58,1631.76) scale(1.0627,1)"><text font-size="24.08" fill="#000">0.1649</text><rect x="21.17" y="-3.25" width="4.48" height="3.61" fill="#fff"/><rect x="29.05" y="-3.25" width="4.24" height="3.61" fill="#fff"/></g>
<g transform="translate(1284.57,1661.56) scale(1.0645,1)"><text font-size="24.08" fill="#000">0.0092</text></g>
<g transform="translate(1284.58,1691.06) scale(1.0627,1)"><text font-size="24.08" fill="#000">0.0733</text></g>
<g transform="translate(1284.58,1720.36) scale(1.0627,1)"><text font-size="24.08" fill="#000">0.0899</text></g>
<g transform="translate(1284.58,1749.56) scale(1.0609,1)"><text font-size="24.08" fill="#000">0.1678</text><rect x="21.17" y="-3.25" width="4.48" height="3.61" fill="#fff"/><rect x="29.05" y="-3.25" width="4.24" height="3.61" fill="#fff"/></g>
<g transform="translate(1284.57,1779.66) scale(1.0645,1)"><text font-size="24.08" fill="#000">0.0542</text></g>
<g transform="translate(1284.58,1808.86) scale(1.0592,1)"><text font-size="24.08" fill="#000">0.2855</text></g>
<g transform="translate(1284.58,1835.96) scale(1.0592,1)"><text font-size="24.08" fill="#000">0.0275</text></g>
<g transform="translate(1284.57,1868.06) scale(1.0645,1)"><text font-size="24.08" fill="#000">0.8600</text></g>
<g transform="translate(1284.58,1897.66) scale(1.0609,1)"><text font-size="24.08" fill="#000">0.0008</text></g>
<g transform="translate(1208.72,1521.36) scale(1.3735,1)"><text font-size="40.81" fill="#000">*</text></g>
<g transform="translate(1210.99,1668.57) scale(1.0191,1)"><text font-size="40.54" fill="#000">*</text></g>
<g transform="translate(1228.99,1668.57) scale(1.0191,1)"><text font-size="40.54" fill="#000">*</text></g>
<g transform="translate(1214.02,1838.91) scale(1.3129,1)"><text font-size="41.89" fill="#000">*</text></g>
<g transform="translate(1213.81,1908.22) scale(0.9294,1)"><text font-size="41.62" fill="#000">*</text></g>
<g transform="translate(1231.11,1908.22) scale(0.9294,1)"><text font-size="41.62" fill="#000">*</text></g>
<g transform="translate(1248.40,1908.22) scale(0.9484,1)"><text font-size="41.62" fill="#000">*</text></g>
<rect x="1389.60" y="1482.00" width="48.00" height="16.10" fill="#1b4a9c" stroke="#000" stroke-width="2.4"/>
<rect x="1389.60" y="1521.50" width="48.00" height="16.10" fill="#e5201b" stroke="#000" stroke-width="2.4"/>
<g transform="translate(1452.19,1498.59) scale(1.1237,1)"><text font-size="31.27" fill="#000">G1</text><rect x="25.73" y="-4.22" width="5.82" height="4.69" fill="#fff"/><rect x="35.95" y="-4.22" width="5.50" height="4.69" fill="#fff"/></g>
<g transform="translate(1452.27,1537.70) scale(1.1128,1)"><text font-size="29.86" fill="#000">G2</text></g>
</svg>
</body></html>
